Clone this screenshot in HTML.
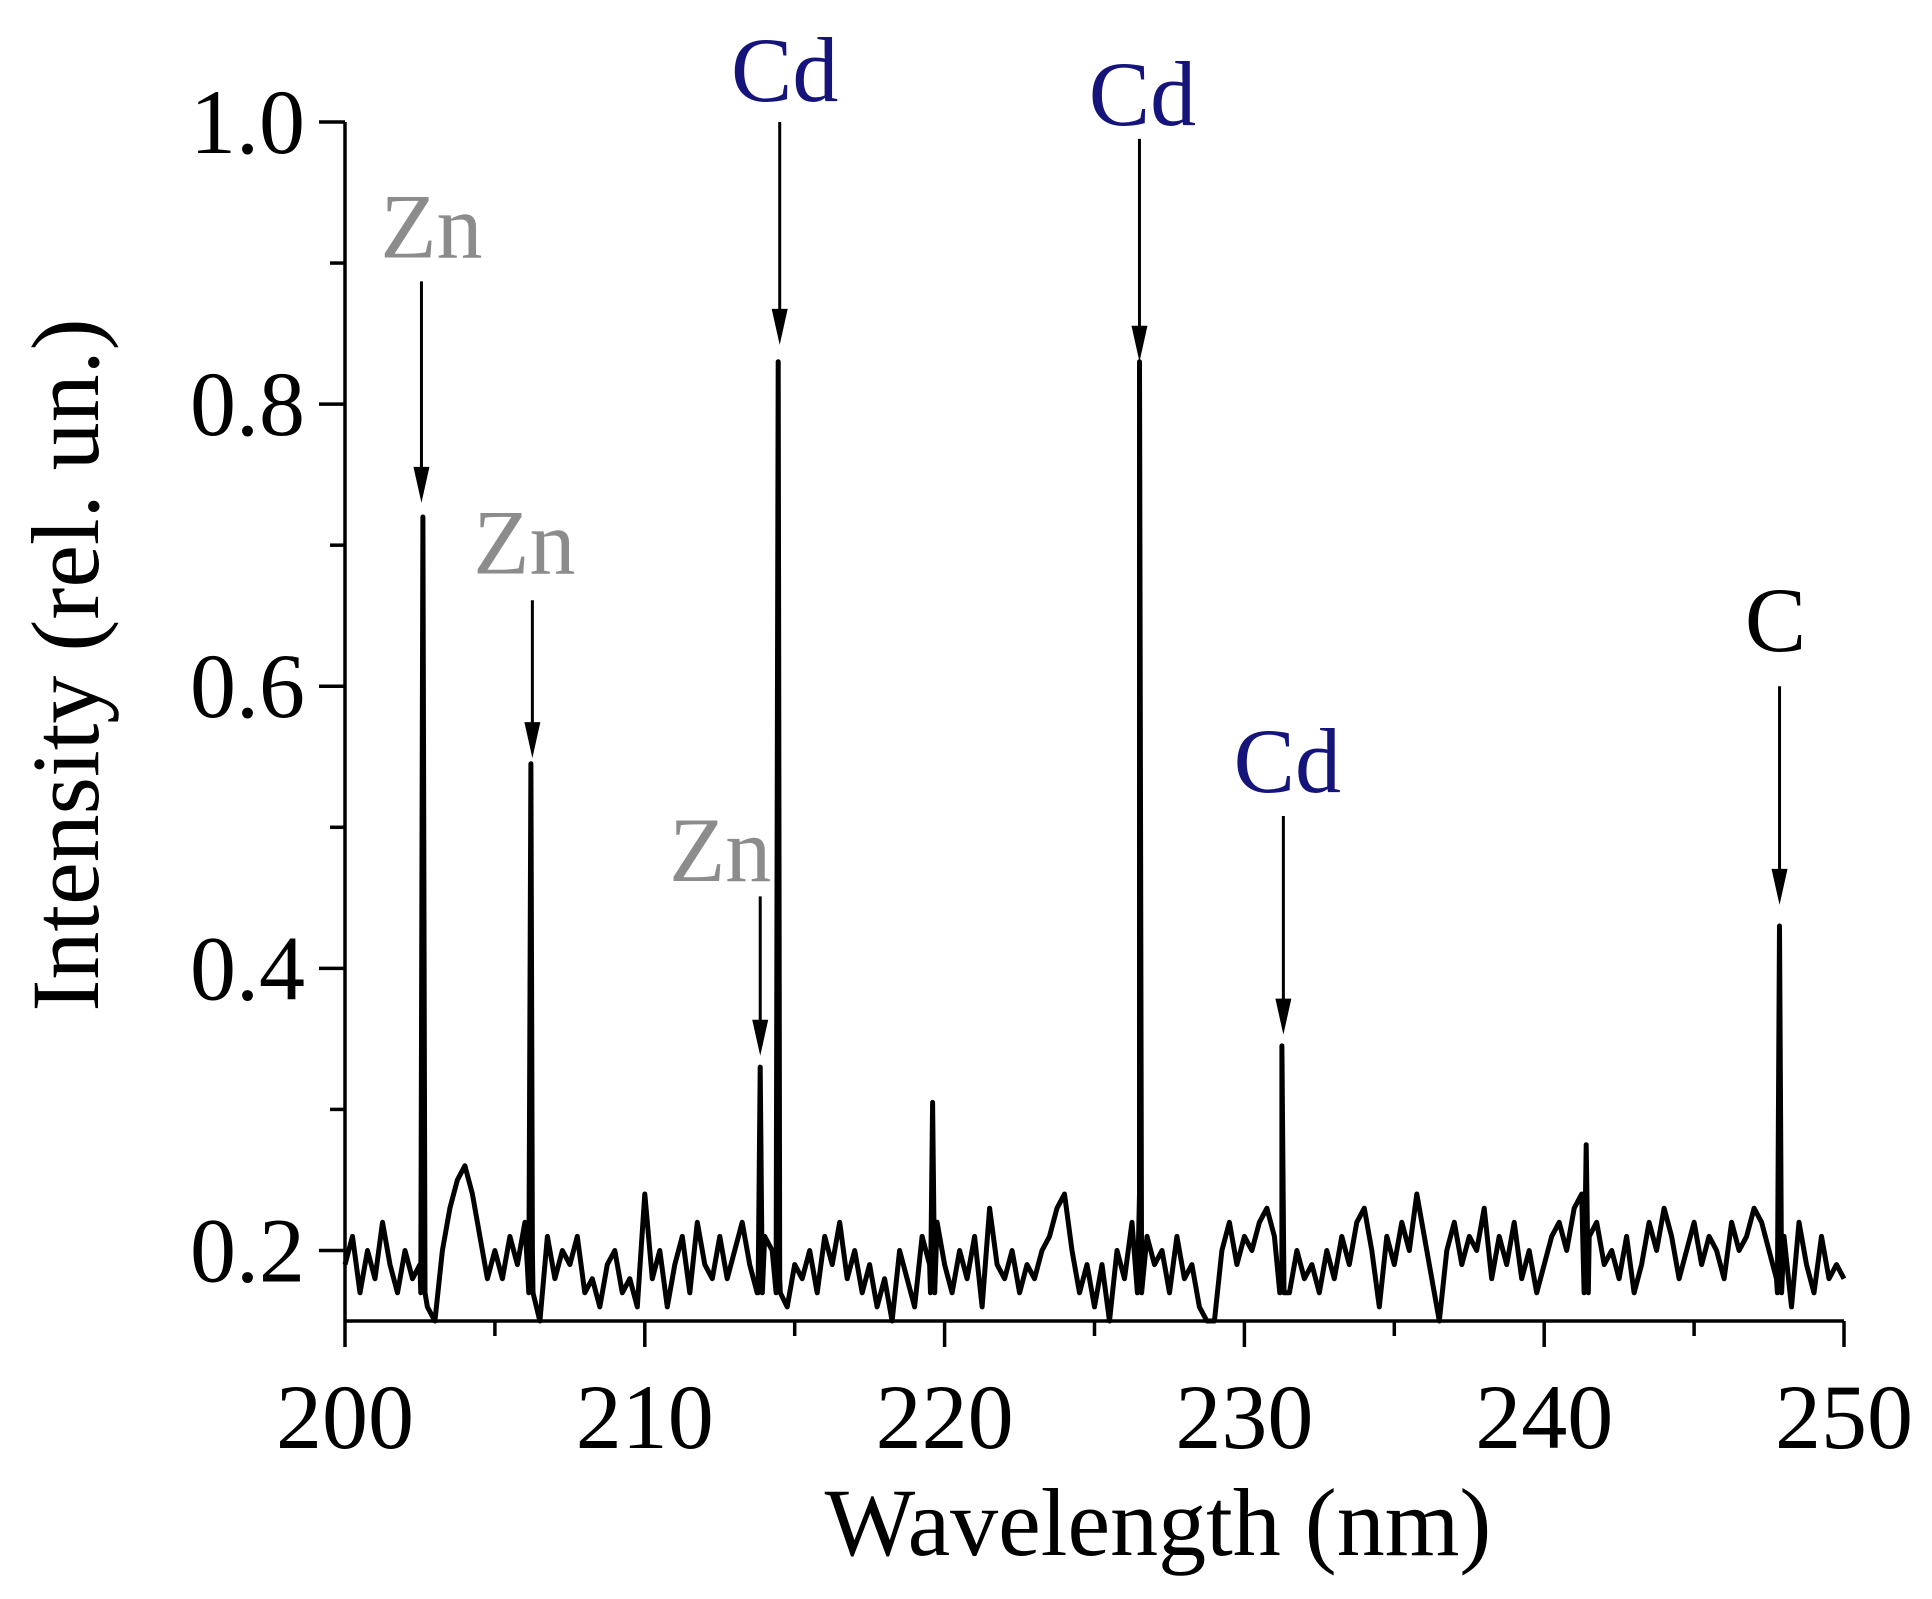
<!DOCTYPE html>
<html><head><meta charset="utf-8">
<style>
html,body{margin:0;padding:0;background:#fff;}
svg{display:block;font-family:"Liberation Serif","DejaVu Serif",serif;}
</style></head>
<body>
<svg id="chart" width="1932" height="1599" viewBox="0 0 1932 1599" xmlns="http://www.w3.org/2000/svg">
<g id="axes"></g>
<g id="plot"></g>
<g id="annots"></g>
<text x="1158" y="1555" font-size="96" text-anchor="middle">Wavelength (nm)</text>
<text transform="translate(98,665) rotate(-90)" font-size="96" text-anchor="middle">Intensity (rel. un.)</text>
</svg>
<script>
const xTicksMajor = [200, 210, 220, 230, 240, 250];
const xTicksMinor = [205, 215, 225, 235, 245];
const yTicksMajor = [0.2, 0.4, 0.6, 0.8, 1.0];
const yTickLabels = ["0.2", "0.4", "0.6", "0.8", "1.0"];
const yTicksMinor = [0.3, 0.5, 0.7, 0.9];
const baseStart = 200;
const baseStep = 0.25;
const baseline = [
.19,.21,.17,.20,.18,.22,.19,.17,.20,.18,
.19,.16,.15,.20,.23,.25,.26,.24,.21,.18,
.20,.18,.21,.19,.22,.20,.15,.21,.18,.20,
.19,.21,.17,.18,.16,.19,.20,.17,.18,.16,
.24,.18,.20,.16,.19,.21,.17,.22,.19,.18,
.21,.18,.20,.22,.19,.17,.21,.20,.18,.16,
.19,.18,.20,.17,.21,.19,.22,.18,.20,.17,
.19,.16,.18,.15,.20,.18,.16,.21,.19,.22,
.19,.17,.20,.18,.21,.16,.23,.19,.18,.20,
.17,.19,.18,.20,.21,.23,.24,.20,.17,.19,
.16,.19,.15,.20,.18,.22,.24,.21,.19,.20,
.17,.21,.18,.19,.16,.15,.15,.20,.22,.19,
.21,.20,.22,.23,.21,.19,.17,.20,.18,.19,
.17,.20,.18,.21,.19,.22,.23,.20,.16,.21,
.19,.22,.20,.24,.21,.18,.15,.20,.22,.19,
.21,.20,.23,.18,.21,.19,.22,.18,.20,.17,
.19,.21,.22,.20,.23,.24,.21,.22,.19,.20,
.18,.21,.17,.19,.22,.20,.23,.21,.18,.20,
.22,.19,.21,.20,.18,.22,.20,.21,.23,.22,
.20,.18,.21,.16,.22,.19,.17,.21,.18,.19,
.18];
const peakWl = [202.6, 206.2, 213.85, 214.45, 219.6, 226.5, 231.25, 241.4, 247.85];
const peakInt = [0.72, 0.545, 0.33, 0.83, 0.305, 0.83, 0.345, 0.275, 0.43];
const annLabels = ["Zn", "Zn", "Zn", "Cd", "Cd", "Cd", "C"];
const annWl = [202.55, 206.25, 213.85, 214.5, 226.5, 231.3, 247.85];
const annTop = [0.887, 0.661, 0.451, 1.0, 0.988, 0.508, 0.60];
const annTip = [0.73, 0.549, 0.338, 0.842, 0.83, 0.353, 0.445];
const annLabelY = [0.904, 0.68, 0.462, 1.015, 0.998, 0.525, 0.625];
const annColor = ["#8c8c8c", "#8c8c8c", "#8c8c8c", "#14147a", "#14147a", "#14147a", "#000"];
const annDx = [10, -8, -40, 5, 3, 4, -4];

const X0 = 345, X1 = 1844, Y0 = 1321, Y1 = 122, XMIN = 200, XMAX = 250, YMIN = 0.15, YMAX = 1.0;
const xs = v => X0 + (v - XMIN) / (XMAX - XMIN) * (X1 - X0);
const ys = v => Y0 - (v - YMIN) / (YMAX - YMIN) * (Y0 - Y1);
const NS = "http://www.w3.org/2000/svg";
function mk(tag, attrs, parent) {
  const e = document.createElementNS(NS, tag);
  for (const k in attrs) e.setAttribute(k, attrs[k]);
  parent.appendChild(e); return e;
}
const axes = document.getElementById('axes');
let e;
e = mk('line', {x1: X0, y1: Y0, x2: X1, y2: Y0, stroke: '#000', 'stroke-width': 3.5}, axes);


e = mk('line', {x1: X0, y1: Y0, x2: X0, y2: Y1, stroke: '#000', 'stroke-width': 3.5}, axes);


xTicksMajor.forEach(v => {
  e = mk('line', {x1: xs(v), y1: Y0, x2: xs(v), y2: Y0 + 26, stroke: '#000', 'stroke-width': 3.5}, axes);
  
  
  e = mk('text', {x: xs(v), y: 1448, 'font-size': 92, 'text-anchor': 'middle'}, axes);
  e.textContent = v;
  
  
});
xTicksMinor.forEach(v => {
  e = mk('line', {x1: xs(v), y1: Y0, x2: xs(v), y2: Y0 + 15, stroke: '#000', 'stroke-width': 3.5}, axes);
  
  
});
yTicksMajor.forEach((v, i) => {
  e = mk('line', {x1: X0 - 26, y1: ys(v), x2: X0, y2: ys(v), stroke: '#000', 'stroke-width': 3.5}, axes);
  
  
  e = mk('text', {x: 305, y: ys(v) + 31, 'font-size': 92, 'text-anchor': 'end'}, axes);
  e.textContent = yTickLabels[i];
  
  
});
yTicksMinor.forEach(v => {
  e = mk('line', {x1: X0 - 15, y1: ys(v), x2: X0, y2: ys(v), stroke: '#000', 'stroke-width': 3.5}, axes);
  
  
});
const pts = baseline.map((v, i) => [baseStart + i * baseStep, v]);
peakWl.forEach((w, i) => {
  pts.push([w - 0.07, 0.17]); pts.push([w, peakInt[i]]); pts.push([w + 0.07, 0.17]);
});
pts.sort((a, b) => a[0] - b[0]);
const plot = document.getElementById('plot');
e = mk('polyline', {points: pts.map(p => xs(p[0]).toFixed(1) + ',' + ys(p[1]).toFixed(1)).join(' '),
  fill: 'none', stroke: '#000', 'stroke-width': 5, 'stroke-linejoin': 'round'}, plot);


const ann = document.getElementById('annots');
annLabels.forEach((t, i) => {
  const x = xs(annWl[i]);
  e = mk('line', {x1: x, y1: ys(annTop[i]), x2: x, y2: ys(annTip[i]) - 30, stroke: '#000', 'stroke-width': 3}, ann);
  
  
  const ty = ys(annTip[i]);
  e = mk('polygon', {points: `${x - 8},${ty - 36} ${x + 8},${ty - 36} ${x},${ty}`, fill: '#000'}, ann);
  
  
  e = mk('text', {x: x + annDx[i], y: ys(annLabelY[i]), 'font-size': 92, 'text-anchor': 'middle', fill: annColor[i]}, ann);
  e.textContent = t;
  
  
});
</script>
</body></html>
